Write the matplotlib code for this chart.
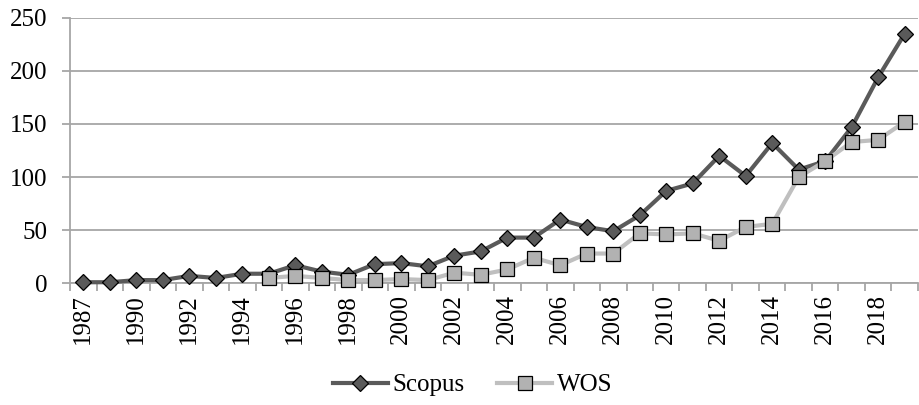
import matplotlib.pyplot as plt
import numpy as np

plt.rcParams['font.family'] = ['Liberation Serif', 'DejaVu Serif']
plt.rcParams['font.size'] = 18

years = ['1987', '1989', '1990', '1991', '1992', '1993', '1994', '1995',
         '1996', '1997', '1998', '1999', '2000', '2001', '2002', '2003',
         '2004', '2005', '2006', '2007', '2008', '2009', '2010', '2011',
         '2012', '2013', '2014', '2015', '2016', '2017', '2018', '2019']
scopus = [1, 1, 3, 3, 7, 5, 9, 9, 17, 11, 8, 18, 19, 16, 26, 30,
          43, 43, 60, 53, 49, 64, 87, 94, 120, 101, 132, 107, 115, 147, 194, 235]
# WOS starts in 1995
wos = [None] * 7 + [5, 7, 5, 3, 3, 4, 3, 10, 8, 13, 24, 17, 28, 28, 47,
                    46, 47, 40, 53, 56, 100, 115, 133, 135, 152]

x = np.arange(len(years))
wos_x = [i for i, v in enumerate(wos) if v is not None]
wos_y = [v for v in wos if v is not None]

fig = plt.figure(figsize=(9.19, 4.05), dpi=100)
ax = fig.add_axes([0.0762, 0.3005, 0.9227, 0.6558])

grid_c = '#a6a6a6'
ax.set_axisbelow(True)
ax.yaxis.grid(True, color=grid_c, lw=1.3)

ax.plot(x, scopus, color='#5a5a5a', lw=3, marker='D', ms=8,
        mfc='#5a5a5a', mec='black', mew=0.9, label='Scopus', zorder=3,
        clip_on=False)
ax.plot(wos_x, wos_y, color='#bfbfbf', lw=3, marker='s', ms=9.5,
        mfc='#b2b2b2', mec='black', mew=0.9, label='WOS', zorder=4,
        clip_on=False)

ax.set_xlim(-0.5, len(years) - 0.5)
ax.set_ylim(0, 250)
ax.set_yticks(np.arange(0, 251, 50))

ax.set_xticks(x[::2])
ax.set_xticklabels(years[::2], rotation=90)
ax.set_xticks(np.arange(-0.5, len(years), 1), minor=True)
ax.tick_params(axis='x', which='major', length=0, pad=8)
ax.tick_params(axis='x', which='minor', length=6, color=grid_c, width=1.3)
ax.tick_params(axis='y', length=6, color=grid_c, width=1.3, pad=10)

for s in ['top', 'right']:
    ax.spines[s].set_visible(False)
for s in ['left', 'bottom']:
    ax.spines[s].set_color(grid_c)
    ax.spines[s].set_linewidth(1.3)

ax.legend(loc='center', bbox_to_anchor=(0.475, -0.383), ncol=2,
          frameon=False, handlelength=2.2, handletextpad=0.2,
          columnspacing=1.3, borderaxespad=0)

fig.savefig('out.png', dpi=100)
